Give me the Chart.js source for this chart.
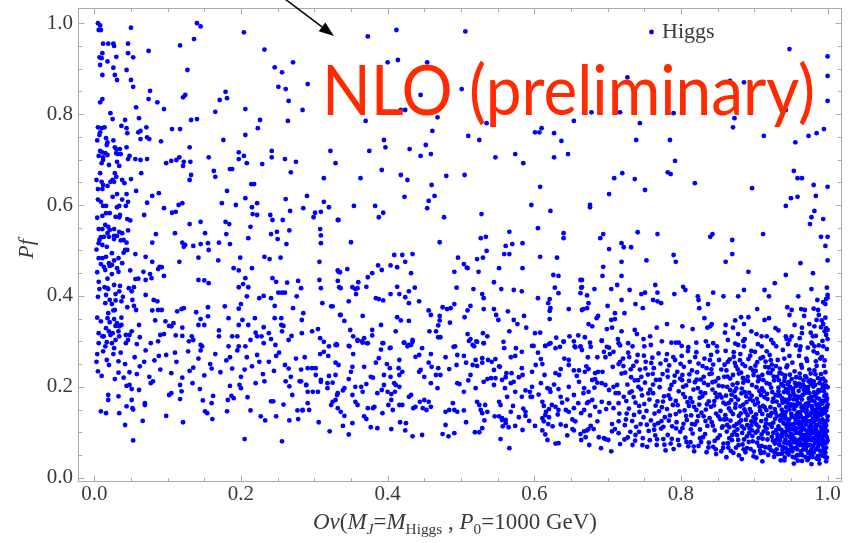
<!DOCTYPE html>
<html><head><meta charset="utf-8">
<script src="https://cdn.jsdelivr.net/npm/chart.js@4.4.1/dist/chart.umd.min.js"></script>
<style>html,body{margin:0;padding:0;background:#fff;}#wrap{width:851px;height:543px;position:relative;}</style>
</head><body><div id="wrap"><canvas id="c" width="851" height="543"></canvas></div>
<script>
const seriesName = 'Higgs';
const xTickValues = [0, 0.2, 0.4, 0.6, 0.8, 1.0];
const xTickLabels = ['0.0', '0.2', '0.4', '0.6', '0.8', '1.0'];
const yTickValues = [0, 0.2, 0.4, 0.6, 0.8, 1.0];
const yTickLabels = ['0.0', '0.2', '0.4', '0.6', '0.8', '1.0'];
const minorTicks = [0,0.05,0.1,0.15,0.2,0.25,0.3,0.35,0.4,0.45,0.5,0.55,0.6,0.65,0.7,0.75,0.8,0.85,0.9,0.95,1.0];
const annotationText = 'NLO (preliminary)';
const xTitleParts = [['Ov','i'],['(',''],['M','i'],['J','is'],['=',''],['M','i'],['Higgs','s'],[' , ',''],['P','i'],['0','s'],['=1000 GeV)','']];
const yTitle = 'Pf';

// [Ov, Pf] pairs, region by region
const topLeft = [
[0.005,1.0],[0.008,0.995],[0.006,0.985],[0.009,0.985],[0.05,0.99],[0.14,1.0],[0.145,0.993],[0.204,0.98],
[0.012,0.955],[0.019,0.955],[0.026,0.955],[0.027,0.95],[0.046,0.955],[0.117,0.951],[0.136,0.965],[0.074,0.939],[0.232,0.942],
[0.007,0.925],[0.01,0.923],[0.011,0.934],[0.03,0.926],[0.046,0.934],[0.053,0.925],[0.018,0.916],[0.008,0.908],[0.026,0.902],[0.044,0.897],[0.127,0.897],[0.246,0.903],[0.271,0.914],[0.256,0.892],
[0.011,0.886],[0.028,0.886],[0.031,0.875],[0.05,0.875],[0.053,0.86],[0.251,0.86],[0.261,0.855],[0.076,0.851],[0.179,0.849],[0.181,0.835],[0.171,0.831],[0.124,0.842],[0.121,0.837],[0.074,0.833],[0.086,0.826],[0.011,0.833],[0.008,0.826],[0.095,0.811],[0.057,0.815],[0.265,0.829],[0.284,0.809],[0.206,0.811],[0.165,0.805],
[0.022,0.802],[0.025,0.789],[0.061,0.791],[0.042,0.787],[0.037,0.774],[0.044,0.769],[0.045,0.758],[0.005,0.771],[0.01,0.769],[0.014,0.771],[0.008,0.76],[0.007,0.754],[0.132,0.787],[0.14,0.789],[0.226,0.787],[0.264,0.785],[0.223,0.769],[0.071,0.771],[0.063,0.763],[0.06,0.76],[0.106,0.767],[0.117,0.767],
[0.016,0.747],[0.018,0.738],[0.072,0.749],[0.075,0.745],[0.063,0.745],[0.091,0.74],[0.206,0.754],[0.176,0.743],[0.13,0.727],
[0.028,0.727],[0.03,0.723],[0.035,0.723],[0.03,0.714],[0.032,0.712],[0.044,0.727],
[0.008,0.719],[0.011,0.716],[0.015,0.714],[0.018,0.71],[0.012,0.705],[0.012,0.699],[0.01,0.692],
[0.048,0.708],[0.046,0.701],[0.056,0.701],[0.063,0.699],[0.072,0.701],[0.031,0.695],[0.116,0.705],[0.112,0.699],[0.131,0.695],[0.122,0.695],[0.121,0.686],[0.105,0.697],[0.098,0.692],[0.156,0.705],
[0.197,0.716],[0.204,0.708],[0.197,0.701],[0.208,0.692],[0.242,0.719],[0.242,0.705],[0.26,0.701],[0.275,0.695],[0.229,0.69],[0.188,0.679],[0.185,0.679],[0.163,0.675],[0.165,0.662],[0.132,0.666],[0.13,0.655],[0.268,0.672],
[0.008,0.67],[0.01,0.651],[0.012,0.644],[0.005,0.635],[0.011,0.635],[0.028,0.67],[0.025,0.655],[0.027,0.651],[0.022,0.651],[0.03,0.662],[0.038,0.655],[0.041,0.648],[0.064,0.67],[0.05,0.657],[0.057,0.631],
[0.214,0.646],[0.218,0.646],[0.181,0.631],[0.088,0.626],[0.079,0.62],[0.044,0.624],[0.031,0.624],[0.206,0.615],[0.261,0.613]
];
const topRight = [
[0.373,0.971],[0.412,0.985],[0.506,0.982],[0.948,0.943],[1.0,0.927],[0.4,0.914],[0.414,0.919],[0.454,0.914],[0.291,0.866],[0.479,0.866],[0.501,0.855],[0.445,0.842],[0.727,0.881],[0.867,0.873],[0.886,0.87],[1.0,0.884],
[0.418,0.809],[0.424,0.809],[0.37,0.785],[0.468,0.793],[0.535,0.78],[0.461,0.763],[0.51,0.752],[0.525,0.743],[0.395,0.743],[0.397,0.727],[0.452,0.732],[0.322,0.719],[0.375,0.719],[0.43,0.723],[0.445,0.708],[0.459,0.712],[0.329,0.692],[0.392,0.677],[0.418,0.666],[0.427,0.655],[0.313,0.659],[0.363,0.659],[0.48,0.664],[0.505,0.666],[0.547,0.705],[0.574,0.712],[0.585,0.692],[0.607,0.76],[0.61,0.769],[0.601,0.76],[0.627,0.758],[0.637,0.741],[0.646,0.712],[0.627,0.705],[0.46,0.644],[0.464,0.62],[0.423,0.618],[0.29,0.62],[0.608,0.64],
[0.678,0.804],[0.717,0.804],[0.79,0.802],[0.654,0.785],[0.744,0.78],[0.873,0.791],[0.871,0.771],[0.943,0.809],[1.0,0.829],[0.739,0.743],[0.785,0.743],[0.913,0.752],[0.956,0.738],[0.974,0.752],[0.985,0.758],[0.995,0.767],[0.792,0.697],[0.782,0.672],[0.786,0.668],[0.709,0.659],[0.72,0.67],[0.737,0.657],[0.751,0.633],[0.702,0.624],[0.819,0.648],[0.897,0.637],[0.954,0.675],[0.959,0.659],[0.965,0.659],[0.981,0.644],[1.0,0.64],[0.984,0.62],[0.95,0.615],[0.959,0.618]
];
const midLeft = [
[0.009,0.607],[0.012,0.598],[0.031,0.595],[0.034,0.598],[0.043,0.598],[0.046,0.607],[0.072,0.605],[0.095,0.593],[0.106,0.583],[0.111,0.585],[0.115,0.6],[0.12,0.604],[0.174,0.604],[0.193,0.6],[0.215,0.595],[0.222,0.604],[0.216,0.58],[0.222,0.578],[0.267,0.587],[0.285,0.593],[0.301,0.583],[0.309,0.585],[0.313,0.607],[0.32,0.595],[0.333,0.567],
[0.011,0.576],[0.016,0.582],[0.021,0.582],[0.029,0.574],[0.034,0.573],[0.045,0.569],[0.049,0.566],[0.068,0.578],[0.13,0.558],[0.145,0.563],[0.179,0.563],[0.184,0.558],[0.213,0.552],[0.24,0.578],[0.243,0.567],[0.257,0.567],[0.299,0.573],
[0.006,0.547],[0.011,0.547],[0.015,0.556],[0.021,0.545],[0.027,0.547],[0.034,0.541],[0.038,0.538],[0.046,0.544],[0.084,0.536],[0.11,0.538],[0.151,0.538],[0.18,0.536],[0.241,0.536],[0.249,0.541],[0.266,0.544],[0.308,0.547],[0.309,0.533],
[0.009,0.529],[0.013,0.53],[0.018,0.538],[0.006,0.516],[0.007,0.523],[0.011,0.512],[0.02,0.53],[0.027,0.525],[0.031,0.532],[0.04,0.523],[0.044,0.517],[0.079,0.517],[0.12,0.517],[0.122,0.508],[0.124,0.512],[0.135,0.51],[0.145,0.514],[0.155,0.516],[0.156,0.501],[0.17,0.517],[0.185,0.514],[0.21,0.527],[0.25,0.525],[0.262,0.514],[0.309,0.516],
[0.006,0.483],[0.011,0.483],[0.016,0.486],[0.024,0.494],[0.027,0.478],[0.033,0.483],[0.04,0.495],[0.042,0.501],[0.045,0.501],[0.056,0.492],[0.07,0.486],[0.079,0.475],[0.116,0.475],[0.142,0.484],[0.169,0.478],[0.199,0.484],[0.232,0.486],[0.239,0.481],[0.254,0.484],[0.307,0.475],
[0.009,0.47],[0.013,0.464],[0.015,0.457],[0.021,0.466],[0.024,0.468],[0.031,0.461],[0.033,0.453],[0.049,0.456],[0.067,0.453],[0.076,0.448],[0.078,0.439],[0.087,0.459],[0.089,0.464],[0.092,0.463],[0.095,0.444],[0.07,0.435],[0.056,0.437],[0.06,0.438],[0.142,0.435],[0.15,0.434],[0.156,0.428],[0.19,0.461],[0.197,0.456],[0.215,0.461],[0.206,0.439],[0.197,0.419],[0.203,0.426],[0.21,0.419],[0.243,0.439],[0.248,0.431],[0.263,0.429],[0.278,0.433],[0.307,0.435],[0.333,0.453],
[0.006,0.431],[0.007,0.415],[0.014,0.419],[0.018,0.417],[0.019,0.415],[0.027,0.424],[0.029,0.404],[0.034,0.41],[0.047,0.417],[0.051,0.41],[0.054,0.419],[0.07,0.402],[0.081,0.391],[0.086,0.388],
[0.015,0.384],[0.021,0.391],[0.024,0.382],[0.028,0.369],[0.029,0.39],[0.037,0.388],[0.045,0.375],[0.052,0.391],[0.054,0.378],[0.057,0.369],[0.079,0.368],[0.087,0.369],[0.092,0.369],[0.113,0.366],[0.119,0.371],[0.122,0.373],[0.139,0.364],[0.155,0.375],[0.178,0.377],[0.197,0.372],[0.2,0.382],[0.208,0.399],[0.225,0.395],[0.231,0.4],[0.241,0.395],[0.246,0.378],[0.251,0.407],[0.256,0.407],[0.26,0.407],[0.271,0.373],[0.276,0.399],[0.282,0.417],[0.285,0.362],[0.309,0.417],[0.311,0.384],[0.323,0.377],[0.334,0.419],[0.335,0.358],
[0.009,0.344],[0.018,0.351],[0.027,0.349],[0.029,0.334],[0.031,0.34],[0.034,0.333],[0.037,0.336],[0.033,0.322],[0.043,0.314],[0.048,0.314],[0.051,0.322],[0.046,0.303],[0.061,0.336],[0.062,0.309],[0.083,0.346],[0.097,0.344],[0.102,0.334],[0.105,0.333],[0.108,0.34],[0.12,0.33],[0.12,0.312],[0.111,0.313],[0.09,0.314],[0.095,0.316],[0.087,0.3],[0.077,0.296],[0.058,0.294],[0.043,0.296],[0.029,0.303],[0.022,0.314],[0.02,0.322],[0.016,0.329],[0.013,0.311],[0.011,0.311],[0.006,0.296],[0.015,0.289],[0.024,0.296],[0.027,0.285],
[0.129,0.3],[0.133,0.311],[0.135,0.303],[0.142,0.336],[0.145,0.349],[0.15,0.336],[0.155,0.355],[0.183,0.351],[0.17,0.324],[0.17,0.311],[0.188,0.311],[0.195,0.311],[0.197,0.336],[0.202,0.347],[0.21,0.336],[0.219,0.351],[0.22,0.319],[0.222,0.311],[0.231,0.331],[0.238,0.318],[0.241,0.305],[0.246,0.351],[0.255,0.351],[0.255,0.336],[0.258,0.334],[0.256,0.322],[0.269,0.312],[0.283,0.347],[0.283,0.318],[0.297,0.322],[0.305,0.327],[0.308,0.307],[0.32,0.289],[0.331,0.292],[0.183,0.289],[0.197,0.289],[0.206,0.289],[0.213,0.303],[0.228,0.311],[0.231,0.296],[0.247,0.292],[0.265,0.303],[0.145,0.292],[0.147,0.289]
];
const leftStrip = [
[0.004,0.742],[0.006,0.708],[0.003,0.655],[0.005,0.612],[0.004,0.572],[0.003,0.502],[0.004,0.452],[0.005,0.398],[0.004,0.352],[0.006,0.318],[0.004,0.272],[0.003,0.255],[0.017,0.732],[0.02,0.688],[0.018,0.642],[0.016,0.598],[0.019,0.552],[0.017,0.508],[0.02,0.472],[0.018,0.438],[0.016,0.402],[0.019,0.362],[0.021,0.342],[0.017,0.298],[0.036,0.712],[0.034,0.686],[0.038,0.612],[0.035,0.578],[0.036,0.522],[0.038,0.472],[0.035,0.422],[0.039,0.398],[0.037,0.352],[0.034,0.311],[0.026,0.742],[0.025,0.618],[0.027,0.532],[0.024,0.448],[0.026,0.368],[0.025,0.318]
];
const midCenter = [
[0.354,0.598],[0.383,0.598],[0.394,0.583],[0.388,0.573],[0.332,0.567],[0.456,0.609],[0.454,0.593],[0.477,0.573],[0.35,0.518],[0.471,0.518],[0.528,0.58],[0.596,0.6],[0.622,0.587],[0.605,0.549],[0.566,0.541],[0.64,0.538],[0.64,0.527],[0.527,0.527],[0.534,0.53],[0.561,0.51],[0.57,0.514],[0.584,0.516],[0.535,0.499],[0.559,0.492],[0.566,0.492],[0.608,0.486],[0.631,0.484],[0.522,0.481],[0.53,0.484],[0.496,0.484],[0.409,0.49],[0.42,0.49],[0.434,0.492],[0.424,0.475],[0.387,0.467],[0.392,0.457],[0.404,0.467],[0.413,0.463],[0.504,0.47],[0.508,0.462],[0.509,0.461],[0.491,0.453],[0.524,0.453],[0.552,0.461],[0.584,0.461],[0.626,0.446],[0.633,0.444],[0.332,0.456],[0.335,0.452],[0.345,0.459],[0.379,0.45],[0.373,0.441],[0.432,0.45],[0.332,0.433],[0.36,0.43],[0.371,0.42],[0.352,0.419],[0.356,0.415],[0.359,0.417],[0.357,0.404],[0.336,0.417],[0.413,0.42],[0.404,0.404],[0.416,0.404],[0.424,0.397],[0.429,0.41],[0.437,0.418],[0.384,0.395],[0.388,0.393],[0.394,0.39],[0.347,0.388],[0.429,0.384],[0.443,0.388],[0.494,0.418],[0.517,0.415],[0.545,0.43],[0.555,0.415],[0.572,0.413],[0.583,0.41],[0.529,0.404],[0.531,0.395],[0.605,0.395],[0.628,0.418],[0.633,0.406],[0.663,0.435],[0.664,0.418],[0.663,0.406],[0.621,0.393],[0.619,0.384],[0.622,0.373],[0.621,0.367],[0.621,0.349],[0.647,0.371],
[0.325,0.377],[0.336,0.358],[0.341,0.345],[0.366,0.356],[0.391,0.336],[0.413,0.353],[0.418,0.346],[0.429,0.345],[0.456,0.368],[0.459,0.358],[0.475,0.375],[0.481,0.371],[0.486,0.373],[0.491,0.382],[0.471,0.356],[0.471,0.346],[0.469,0.335],[0.485,0.341],[0.505,0.353],[0.509,0.368],[0.513,0.378],[0.531,0.371],[0.545,0.371],[0.548,0.358],[0.551,0.347],[0.564,0.366],[0.572,0.347],[0.577,0.338],[0.586,0.356],[0.589,0.33],[0.349,0.325],[0.379,0.325],[0.379,0.313],[0.411,0.322],[0.434,0.303],[0.457,0.322],[0.466,0.322],[0.469,0.309],[0.472,0.309],[0.509,0.316],[0.513,0.305],[0.521,0.3],[0.53,0.318],[0.536,0.311],[0.566,0.322],[0.601,0.318],[0.608,0.319],[0.63,0.308],[0.64,0.3],[0.648,0.311],[0.654,0.3],[0.66,0.313],
[0.33,0.294],[0.348,0.289],[0.353,0.311],[0.359,0.303],[0.365,0.3],[0.368,0.307],[0.373,0.296],[0.393,0.296],[0.404,0.286],[0.423,0.297],[0.427,0.289],[0.432,0.292],[0.447,0.285],[0.492,0.289],[0.518,0.289],[0.531,0.296],[0.559,0.285],[0.599,0.29],[0.615,0.29],[0.62,0.294],[0.655,0.289],[0.663,0.289]
];
const midRight = [
[0.676,0.6],[0.676,0.595],[0.943,0.598],[0.982,0.587],[0.978,0.573],[0.976,0.558],[0.994,0.569],[0.694,0.536],[0.69,0.527],[0.702,0.503],[0.741,0.54],[0.768,0.536],[0.719,0.516],[0.722,0.507],[0.732,0.507],[0.84,0.53],[0.843,0.536],[0.87,0.523],[0.87,0.492],[0.912,0.536],[0.991,0.53],[1.0,0.53],[0.997,0.51],[1.0,0.478],[0.79,0.49],[0.793,0.475],[0.753,0.478],[0.719,0.475],[0.861,0.475],[0.963,0.472],[0.694,0.464],[0.693,0.444],[0.719,0.444],[0.892,0.453],[0.943,0.446],[0.98,0.45],[0.928,0.428],[0.978,0.415],[0.665,0.435],[0.665,0.419],[0.682,0.415],[0.672,0.401],[0.674,0.384],[0.705,0.415],[0.713,0.424],[0.73,0.413],[0.765,0.424],[0.768,0.407],[0.746,0.404],[0.751,0.407],[0.803,0.42],[0.806,0.413],[0.791,0.404],[0.844,0.407],[0.858,0.399],[0.878,0.399],[0.886,0.413],[0.914,0.413],[0.92,0.399],[0.96,0.399],[1.0,0.396],[0.998,0.393],[0.986,0.391],
[0.719,0.391],[0.7,0.378],[0.672,0.373],[0.667,0.371],[0.687,0.356],[0.685,0.351],[0.71,0.362],[0.705,0.347],[0.71,0.349],[0.723,0.362],[0.762,0.391],[0.768,0.388],[0.773,0.384],[0.738,0.382],[0.748,0.373],[0.823,0.399],[0.824,0.391],[0.825,0.373],[0.837,0.382],[0.832,0.351],[0.836,0.33],[0.842,0.338],[0.84,0.333],[0.904,0.371],[0.914,0.347],[0.92,0.351],[0.945,0.375],[0.951,0.369],[0.948,0.358],[0.964,0.371],[0.969,0.369],[0.987,0.369],[0.997,0.382],[1.0,0.402],
[0.665,0.369],[0.674,0.338],[0.679,0.333],[0.699,0.327],[0.706,0.33],[0.719,0.322],[0.714,0.305],[0.669,0.309],[0.676,0.297],[0.692,0.302],[0.737,0.325],[0.74,0.316],[0.749,0.305],[0.75,0.289],[0.758,0.311],[0.759,0.292],[0.767,0.33],[0.774,0.3],[0.781,0.338],[0.728,0.296],[0.734,0.289],[0.717,0.291],[0.702,0.286],[0.787,0.297],[0.793,0.297],[0.797,0.297],[0.801,0.29],[0.81,0.287],[0.802,0.333],[0.816,0.327],[0.821,0.297],[0.834,0.3],[0.837,0.29],[0.844,0.296],[0.849,0.289],[0.861,0.336],[0.86,0.319],[0.864,0.303],[0.871,0.33],[0.874,0.346],[0.882,0.353],[0.886,0.338],[0.892,0.353],[0.878,0.316],[0.887,0.305],[0.896,0.322],[0.903,0.316],[0.91,0.311],[0.917,0.311],[0.923,0.303],[0.878,0.292],[0.874,0.295],[0.886,0.289],[0.929,0.329],[0.933,0.324],[0.943,0.311],[0.944,0.305],[0.948,0.303],[0.951,0.311],[0.955,0.336],[0.962,0.307],[0.965,0.33],[0.977,0.319],[0.98,0.311],[0.982,0.333],[0.985,0.347],[0.988,0.358],[0.992,0.346],[0.994,0.338],[0.996,0.322],[0.998,0.329],[0.998,0.314],[1.0,0.305],[1.0,0.325],[0.91,0.289],[0.93,0.289],[0.946,0.294],[0.963,0.289],[0.973,0.286],[0.982,0.289],[0.988,0.291],[0.994,0.289],[0.978,0.297],
[0.962,0.281],[0.971,0.262],[0.979,0.295],[0.986,0.274],[0.993,0.301],[0.999,0.283],[0.965,0.318],[0.975,0.338],[0.984,0.312],[0.991,0.331],[0.997,0.352],[0.968,0.356],[0.981,0.372],[0.994,0.386],[0.999,0.418],[0.957,0.291],[0.948,0.268],[0.939,0.281],[0.926,0.296],[0.917,0.278],[0.905,0.294],[0.896,0.279],[0.885,0.301],[0.872,0.276],[0.99,0.262]
];
const lowLeft = [
[0.009,0.146],[0.016,0.142],[0.019,0.182],[0.019,0.171],[0.033,0.179],[0.034,0.142],[0.044,0.157],[0.042,0.116],[0.044,0.202],[0.048,0.204],[0.051,0.195],[0.051,0.171],[0.052,0.153],[0.053,0.15],[0.053,0.082],[0.061,0.193],[0.066,0.125],[0.069,0.164],[0.069,0.16],[0.077,0.208],[0.08,0.212],[0.098,0.136],[0.102,0.182],[0.105,0.186],[0.117,0.204],[0.119,0.19],[0.117,0.173],[0.121,0.122],[0.134,0.208],[0.144,0.195],[0.148,0.17],[0.151,0.146],[0.154,0.142],[0.16,0.164],[0.162,0.18],[0.161,0.129],[0.182,0.171],[0.181,0.146],[0.185,0.202],[0.187,0.18],[0.19,0.175],[0.198,0.204],[0.2,0.197],[0.205,0.085],[0.209,0.177],[0.213,0.148],[0.22,0.208],[0.227,0.135],[0.232,0.212],[0.233,0.126],[0.241,0.168],[0.244,0.168],[0.248,0.135],[0.256,0.08],[0.258,0.161],[0.261,0.212],[0.266,0.201],[0.266,0.126],[0.27,0.182],[0.277,0.148],[0.284,0.148],[0.278,0.129],[0.28,0.212],[0.282,0.212],[0.289,0.204],
[0.005,0.234],[0.01,0.224],[0.033,0.231],[0.028,0.217],[0.012,0.278],[0.026,0.272],[0.017,0.259],[0.033,0.256],[0.042,0.25],[0.048,0.232],[0.055,0.265],[0.062,0.245],[0.07,0.28],[0.075,0.222],[0.082,0.258],[0.09,0.238],[0.098,0.27],[0.105,0.23],[0.112,0.255],[0.12,0.22],[0.128,0.278],[0.135,0.242],[0.142,0.262],[0.15,0.225],[0.158,0.25],[0.165,0.272],[0.172,0.232],[0.18,0.258],[0.188,0.24],[0.195,0.28],[0.2,0.222],[0.208,0.265],[0.215,0.245],[0.222,0.27],[0.23,0.228],[0.238,0.255],[0.245,0.235],[0.252,0.275],[0.26,0.248],[0.268,0.222],[0.275,0.262],[0.282,0.238],[0.04,0.22],[0.058,0.228],[0.068,0.255],[0.088,0.268],[0.11,0.275],[0.13,0.235],[0.145,0.28],[0.16,0.24],[0.185,0.265],[0.205,0.238],[0.225,0.255],[0.248,0.268],[0.265,0.24],[0.036,0.275],[0.02,0.248]
];
const lowCenter = [
[0.313,0.299],[0.329,0.292],[0.347,0.29],[0.359,0.301],[0.366,0.297],[0.372,0.296],[0.394,0.296],[0.422,0.297],[0.429,0.292],[0.434,0.299],[0.49,0.288],[0.511,0.301],[0.516,0.292],[0.522,0.299],[0.531,0.296],[0.558,0.299],[0.583,0.277],[0.597,0.29],[0.615,0.29],[0.622,0.296],[0.64,0.299],[0.656,0.287],[0.663,0.288],[0.673,0.265],[0.677,0.288],[0.692,0.301],[0.699,0.288],[0.708,0.277],[0.715,0.296],
[0.308,0.272],[0.313,0.277],[0.319,0.268],[0.287,0.265],[0.353,0.272],[0.388,0.263],[0.391,0.282],[0.403,0.285],[0.416,0.259],[0.443,0.27],[0.438,0.266],[0.459,0.272],[0.479,0.265],[0.495,0.27],[0.504,0.268],[0.52,0.259],[0.529,0.263],[0.537,0.259],[0.547,0.261],[0.568,0.265],[0.574,0.268],[0.609,0.261],[0.629,0.285],[0.647,0.259],[0.686,0.265],[0.697,0.265],[0.715,0.25],
[0.291,0.241],[0.297,0.241],[0.302,0.241],[0.329,0.253],[0.333,0.248],[0.352,0.244],[0.35,0.233],[0.368,0.244],[0.384,0.253],[0.399,0.25],[0.403,0.241],[0.415,0.241],[0.42,0.233],[0.416,0.226],[0.395,0.226],[0.404,0.222],[0.443,0.233],[0.445,0.237],[0.456,0.253],[0.46,0.244],[0.469,0.241],[0.484,0.239],[0.494,0.248],[0.507,0.253],[0.516,0.248],[0.522,0.246],[0.529,0.253],[0.542,0.255],[0.545,0.237],[0.553,0.244],[0.562,0.23],[0.569,0.23],[0.583,0.241],[0.584,0.226],[0.597,0.233],[0.611,0.25],[0.629,0.23],[0.634,0.226],[0.636,0.239],[0.647,0.248],[0.654,0.236],[0.661,0.236],[0.669,0.233],[0.674,0.239],[0.683,0.23],[0.687,0.233],[0.707,0.244],[0.717,0.255],[0.302,0.226],[0.309,0.215],[0.32,0.224],[0.329,0.226],[0.347,0.217],[0.377,0.222],[0.38,0.22],[0.466,0.226],[0.472,0.226],[0.513,0.226],[0.536,0.217],[0.547,0.219],[0.572,0.211],[0.561,0.221],
[0.289,0.204],[0.291,0.189],[0.298,0.189],[0.305,0.189],[0.318,0.208],[0.318,0.197],[0.309,0.211],[0.325,0.209],[0.331,0.182],[0.332,0.186],[0.339,0.192],[0.341,0.197],[0.356,0.2],[0.352,0.182],[0.364,0.2],[0.366,0.189],[0.371,0.206],[0.386,0.186],[0.392,0.193],[0.395,0.204],[0.4,0.189],[0.405,0.184],[0.409,0.208],[0.411,0.204],[0.416,0.2],[0.41,0.189],[0.429,0.178],[0.432,0.182],[0.45,0.222],[0.459,0.208],[0.468,0.197],[0.495,0.208],[0.498,0.206],[0.51,0.214],[0.504,0.189],[0.52,0.197],[0.531,0.211],[0.541,0.219],[0.545,0.204],[0.556,0.215],[0.568,0.208],[0.56,0.197],[0.574,0.189],[0.583,0.178],[0.594,0.189],[0.597,0.2],[0.597,0.178],[0.609,0.208],[0.618,0.197],[0.621,0.195],[0.622,0.189],[0.633,0.195],[0.636,0.178],[0.647,0.2],[0.654,0.182],[0.661,0.211],[0.668,0.197],[0.674,0.189],[0.679,0.215],[0.683,0.217],[0.686,0.209],[0.692,0.208],[0.697,0.204],[0.702,0.193],[0.708,0.2],[0.713,0.204],[0.715,0.186],
[0.284,0.149],[0.291,0.164],[0.293,0.149],[0.323,0.16],[0.325,0.167],[0.329,0.171],[0.332,0.153],[0.336,0.145],[0.341,0.136],[0.356,0.167],[0.359,0.16],[0.368,0.135],[0.373,0.153],[0.38,0.153],[0.382,0.156],[0.393,0.142],[0.401,0.16],[0.405,0.171],[0.407,0.149],[0.416,0.16],[0.42,0.16],[0.435,0.153],[0.438,0.156],[0.444,0.167],[0.448,0.153],[0.45,0.171],[0.456,0.167],[0.453,0.149],[0.459,0.156],[0.479,0.145],[0.484,0.149],[0.491,0.149],[0.489,0.164],[0.495,0.145],[0.504,0.148],[0.522,0.167],[0.525,0.16],[0.527,0.149],[0.529,0.142],[0.533,0.16],[0.536,0.145],[0.552,0.167],[0.554,0.16],[0.556,0.131],[0.561,0.127],[0.568,0.145],[0.588,0.145],[0.595,0.178],[0.611,0.167],[0.613,0.158],[0.616,0.145],[0.62,0.151],[0.624,0.16],[0.629,0.156],[0.633,0.149],[0.638,0.165],[0.643,0.149],[0.647,0.145],[0.654,0.153],[0.66,0.164],[0.664,0.142],[0.668,0.149],[0.672,0.164],[0.674,0.167],[0.679,0.171],[0.683,0.156],[0.689,0.145],[0.692,0.167],[0.702,0.164],[0.708,0.153],[0.715,0.164],
[0.306,0.122],[0.339,0.114],[0.352,0.12],[0.371,0.129],[0.377,0.111],[0.386,0.109],[0.405,0.107],[0.417,0.122],[0.425,0.12],[0.424,0.104],[0.434,0.091],[0.447,0.094],[0.475,0.096],[0.483,0.091],[0.491,0.098],[0.479,0.116],[0.507,0.122],[0.519,0.1],[0.525,0.1],[0.529,0.109],[0.532,0.126],[0.554,0.085],[0.557,0.113],[0.561,0.12],[0.565,0.111],[0.566,0.065],[0.574,0.114],[0.579,0.133],[0.584,0.105],[0.588,0.136],[0.601,0.114],[0.611,0.104],[0.613,0.124],[0.618,0.083],[0.62,0.133],[0.625,0.113],[0.629,0.075],[0.633,0.076],[0.636,0.117],[0.643,0.114],[0.652,0.107],[0.654,0.104],[0.656,0.124],[0.664,0.083],[0.668,0.102],[0.67,0.089],[0.672,0.104],[0.674,0.107],[0.677,0.114],[0.681,0.107],[0.686,0.124],[0.691,0.065],[0.695,0.087],[0.697,0.085],[0.701,0.083],[0.706,0.102],[0.71,0.107],[0.715,0.124],[0.717,0.074],[0.321,0.102],[0.347,0.095],[0.552,0.135],[0.546,0.135],[0.556,0.127],[0.611,0.131],[0.615,0.138],
[0.552,0.245],[0.563,0.178],[0.571,0.158],[0.579,0.221],[0.588,0.192],[0.593,0.125],[0.602,0.248],[0.606,0.183],[0.614,0.226],[0.619,0.118],[0.627,0.205],[0.632,0.139],[0.641,0.262],[0.645,0.172],[0.652,0.128],[0.658,0.224],[0.663,0.096],[0.667,0.186],[0.671,0.245],[0.676,0.137],[0.682,0.198],[0.688,0.089],[0.693,0.233],[0.698,0.151],[0.703,0.272],[0.706,0.118],[0.711,0.186],[0.716,0.141],[0.719,0.229],[0.575,0.285],[0.605,0.275],[0.635,0.288],[0.665,0.281],[0.695,0.277],[0.585,0.152],[0.615,0.095],[0.645,0.093],[0.675,0.072],[0.705,0.058],[0.715,0.098]
];
const lowRight = [
[0.721,0.262],[0.724,0.231],[0.727,0.205],[0.722,0.178],[0.729,0.152],[0.725,0.128],[0.731,0.101],[0.723,0.084],[0.735,0.246],[0.737,0.214],[0.733,0.19],[0.738,0.165],[0.736,0.138],[0.739,0.112],[0.734,0.072],[0.728,0.275],[0.732,0.221],[0.726,0.141],[0.738,0.094],[0.73,0.187],
[0.741,0.27],[0.744,0.238],[0.742,0.2],[0.747,0.181],[0.743,0.158],[0.749,0.133],[0.745,0.118],[0.748,0.087],[0.752,0.255],[0.755,0.227],[0.751,0.209],[0.757,0.172],[0.753,0.147],[0.759,0.126],[0.756,0.103],[0.754,0.068],[0.746,0.222],[0.758,0.194],[0.75,0.162],[0.743,0.101],
[0.761,0.264],[0.763,0.241],[0.766,0.215],[0.762,0.186],[0.768,0.168],[0.764,0.141],[0.769,0.12],[0.765,0.093],[0.767,0.072],[0.772,0.251],[0.775,0.228],[0.771,0.199],[0.777,0.179],[0.774,0.155],[0.778,0.133],[0.773,0.108],[0.776,0.085],[0.779,0.06],[0.762,0.205],[0.77,0.146],[0.776,0.112],[0.764,0.116],
[0.781,0.272],[0.784,0.247],[0.782,0.222],[0.787,0.204],[0.783,0.181],[0.789,0.16],[0.785,0.137],[0.788,0.113],[0.782,0.094],[0.786,0.075],[0.792,0.259],[0.795,0.233],[0.791,0.211],[0.797,0.19],[0.793,0.169],[0.798,0.146],[0.794,0.122],[0.799,0.101],[0.796,0.083],[0.79,0.063],[0.785,0.195],[0.793,0.14],[0.799,0.218],[0.781,0.151],
[0.801,0.268],[0.804,0.244],[0.802,0.226],[0.807,0.203],[0.803,0.184],[0.809,0.166],[0.805,0.148],[0.808,0.127],[0.802,0.109],[0.806,0.088],[0.81,0.069],[0.812,0.255],[0.815,0.236],[0.811,0.213],[0.817,0.194],[0.813,0.175],[0.818,0.156],[0.814,0.137],[0.819,0.117],[0.816,0.097],[0.813,0.078],[0.818,0.058],[0.807,0.136],[0.815,0.118],[0.803,0.2],[0.811,0.158],[0.819,0.21],
[0.821,0.276],[0.824,0.251],[0.822,0.232],[0.827,0.216],[0.823,0.197],[0.829,0.179],[0.825,0.161],[0.828,0.143],[0.822,0.124],[0.826,0.106],[0.83,0.089],[0.824,0.07],[0.832,0.262],[0.835,0.241],[0.831,0.222],[0.837,0.204],[0.833,0.186],[0.838,0.168],[0.834,0.15],[0.839,0.131],[0.836,0.114],[0.833,0.096],[0.838,0.077],[0.835,0.056],[0.827,0.188],[0.831,0.135],[0.826,0.087],[0.839,0.228],[0.821,0.149],
[0.841,0.27],[0.844,0.249],[0.842,0.229],[0.847,0.212],[0.843,0.194],[0.849,0.177],[0.845,0.159],[0.848,0.141],[0.842,0.122],[0.846,0.104],[0.85,0.087],[0.844,0.068],[0.848,0.052],[0.852,0.259],[0.855,0.238],[0.851,0.219],[0.857,0.201],[0.853,0.183],[0.858,0.165],[0.854,0.147],[0.859,0.128],[0.856,0.11],[0.853,0.093],[0.858,0.075],[0.855,0.058],[0.847,0.186],[0.851,0.135],[0.846,0.081],[0.859,0.222],[0.841,0.156],[0.857,0.113],[0.843,0.21],
[0.861,0.279],[0.864,0.255],[0.862,0.236],[0.867,0.218],[0.863,0.2],[0.869,0.183],[0.865,0.164],[0.868,0.146],[0.862,0.129],[0.866,0.111],[0.87,0.094],[0.864,0.076],[0.868,0.059],[0.862,0.045],[0.872,0.266],[0.875,0.245],[0.871,0.226],[0.877,0.208],[0.873,0.19],[0.878,0.172],[0.874,0.154],[0.879,0.136],[0.876,0.118],[0.873,0.101],[0.878,0.083],[0.875,0.066],[0.879,0.049],[0.867,0.193],[0.871,0.14],[0.866,0.087],[0.879,0.229],[0.861,0.162],[0.877,0.106],[0.863,0.116],[0.874,0.178],
[0.881,0.272],[0.884,0.25],[0.882,0.231],[0.887,0.214],[0.883,0.196],[0.889,0.179],[0.885,0.161],[0.888,0.144],[0.882,0.126],[0.886,0.108],[0.89,0.091],[0.884,0.073],[0.888,0.056],[0.883,0.041],[0.892,0.261],[0.895,0.241],[0.891,0.222],[0.897,0.204],[0.893,0.187],[0.898,0.169],[0.894,0.151],[0.899,0.133],[0.896,0.115],[0.893,0.098],[0.898,0.08],[0.895,0.063],[0.899,0.047],[0.887,0.188],[0.891,0.137],[0.886,0.084],[0.899,0.226],[0.881,0.157],[0.897,0.104],[0.883,0.113],[0.894,0.173],[0.89,0.065],[0.885,0.209],[0.896,0.124],
[0.901,0.277],[0.904,0.254],[0.902,0.235],[0.907,0.217],[0.903,0.199],[0.909,0.182],[0.905,0.165],[0.908,0.147],[0.902,0.13],[0.906,0.112],[0.91,0.095],[0.904,0.077],[0.908,0.06],[0.903,0.044],[0.912,0.265],[0.915,0.244],[0.911,0.226],[0.917,0.208],[0.913,0.19],[0.918,0.173],[0.914,0.155],[0.919,0.137],[0.916,0.119],[0.913,0.102],[0.918,0.084],[0.915,0.067],[0.919,0.05],[0.911,0.036],[0.907,0.191],[0.911,0.14],[0.906,0.087],[0.919,0.231],[0.901,0.161],[0.917,0.108],[0.903,0.117],[0.914,0.177],[0.91,0.07],[0.905,0.212],[0.916,0.128],[0.909,0.054],[0.912,0.158],[0.902,0.099],
[0.921,0.27],[0.924,0.249],[0.922,0.23],[0.927,0.214],[0.923,0.198],[0.929,0.182],[0.925,0.167],[0.928,0.151],[0.922,0.136],[0.926,0.121],[0.93,0.105],[0.924,0.09],[0.928,0.075],[0.923,0.06],[0.927,0.046],[0.932,0.259],[0.935,0.24],[0.931,0.222],[0.937,0.206],[0.933,0.19],[0.938,0.175],[0.934,0.159],[0.939,0.143],[0.936,0.128],[0.933,0.113],[0.938,0.097],[0.935,0.082],[0.939,0.067],[0.932,0.052],[0.936,0.038],[0.921,0.206],[0.926,0.174],[0.929,0.143],[0.924,0.112],[0.93,0.083],[0.921,0.068],[0.937,0.229],[0.933,0.198],[0.939,0.165],[0.931,0.136],[0.937,0.105],[0.934,0.074],[0.928,0.059],[0.922,0.155],[0.94,0.12],[0.925,0.238],[0.932,0.09],[0.938,0.053],[0.926,0.099],[0.935,0.181],
[0.941,0.262],[0.944,0.243],[0.942,0.225],[0.947,0.21],[0.943,0.195],[0.949,0.18],[0.945,0.165],[0.948,0.15],[0.942,0.136],[0.946,0.122],[0.95,0.107],[0.944,0.093],[0.948,0.079],[0.943,0.065],[0.947,0.051],[0.941,0.038],[0.952,0.253],[0.955,0.234],[0.951,0.217],[0.957,0.202],[0.953,0.187],[0.958,0.172],[0.954,0.158],[0.959,0.143],[0.956,0.129],[0.953,0.115],[0.958,0.1],[0.955,0.086],[0.959,0.072],[0.952,0.058],[0.956,0.044],[0.954,0.031],[0.941,0.213],[0.946,0.187],[0.949,0.158],[0.944,0.129],[0.95,0.097],[0.941,0.077],[0.957,0.221],[0.953,0.196],[0.959,0.164],[0.951,0.134],[0.957,0.109],[0.954,0.078],[0.948,0.061],[0.942,0.172],[0.96,0.124],[0.945,0.247],[0.952,0.092],[0.958,0.049],[0.946,0.104],[0.955,0.181],[0.943,0.145],[0.951,0.066],[0.947,0.115],[0.958,0.135],[0.944,0.056],[0.953,0.161],[0.949,0.2],[0.956,0.065],[0.942,0.101],
[0.961,0.268],[0.964,0.248],[0.962,0.229],[0.967,0.214],[0.963,0.2],[0.969,0.186],[0.965,0.172],[0.968,0.158],[0.962,0.144],[0.966,0.131],[0.97,0.117],[0.964,0.104],[0.968,0.09],[0.963,0.077],[0.967,0.063],[0.961,0.05],[0.965,0.037],[0.972,0.257],[0.975,0.238],[0.971,0.221],[0.977,0.206],[0.973,0.192],[0.978,0.178],[0.974,0.165],[0.979,0.151],[0.976,0.138],[0.973,0.124],[0.978,0.111],[0.975,0.097],[0.979,0.084],[0.972,0.07],[0.976,0.057],[0.974,0.043],[0.978,0.03],[0.961,0.207],[0.966,0.182],[0.969,0.151],[0.964,0.122],[0.97,0.094],[0.961,0.083],[0.977,0.229],[0.973,0.199],[0.979,0.17],[0.971,0.143],[0.977,0.118],[0.974,0.088],[0.968,0.068],[0.962,0.163],[0.98,0.13],[0.965,0.242],[0.972,0.103],[0.978,0.062],[0.966,0.111],[0.975,0.186],[0.963,0.137],[0.971,0.076],[0.967,0.124],[0.978,0.142],[0.964,0.058],[0.973,0.158],[0.969,0.2],[0.976,0.072],[0.962,0.097],[0.97,0.045],[0.975,0.112],[0.967,0.086],[0.979,0.098],[0.963,0.177],[0.972,0.135],[0.966,0.148],[0.977,0.05],[0.961,0.118],[0.974,0.212],
[0.981,0.278],[0.984,0.256],[0.982,0.236],[0.987,0.219],[0.983,0.204],[0.989,0.19],[0.985,0.176],[0.988,0.162],[0.982,0.149],[0.986,0.135],[0.99,0.122],[0.984,0.108],[0.988,0.095],[0.983,0.082],[0.987,0.068],[0.981,0.055],[0.985,0.042],[0.989,0.031],[0.992,0.266],[0.995,0.246],[0.991,0.228],[0.997,0.212],[0.993,0.197],[0.998,0.183],[0.994,0.169],[0.999,0.155],[0.996,0.142],[0.993,0.128],[0.998,0.115],[0.995,0.101],[0.999,0.088],[0.992,0.074],[0.996,0.061],[0.994,0.048],[0.998,0.036],[0.981,0.212],[0.986,0.187],[0.989,0.155],[0.984,0.127],[0.99,0.1],[0.981,0.087],[0.997,0.232],[0.993,0.205],[0.999,0.175],[0.991,0.147],[0.997,0.122],[0.994,0.092],[0.988,0.073],[0.982,0.168],[1.0,0.135],[0.985,0.246],[0.992,0.108],[0.998,0.066],[0.986,0.116],[0.995,0.19],[0.983,0.141],[0.991,0.081],[0.987,0.129],[0.998,0.148],[0.984,0.062],[0.993,0.163],[0.989,0.208],[0.996,0.076],[0.982,0.101],[0.99,0.049],[0.995,0.118],[0.987,0.09],[0.999,0.103],[0.983,0.18],[0.992,0.139],[0.986,0.152],[0.997,0.055],[0.981,0.123],[0.994,0.218],[1.0,0.082],[1.0,0.161],[1.0,0.199],[0.999,0.044],[0.988,0.04],[0.996,0.258]
];
const coreCluster = [
[0.9335,0.2145],[0.9405,0.1885],[0.9475,0.1725],[0.9545,0.1505],[0.9615,0.1335],[0.9685,0.1065],[0.9755,0.0925],[0.9825,0.0765],[0.9895,0.0595],[0.9965,0.0455],
[0.9305,0.1675],[0.9375,0.1495],[0.9445,0.1105],[0.9515,0.0855],[0.9585,0.0625],[0.9655,0.0495],[0.9725,0.0385],[0.9795,0.0455],[0.9865,0.0475],[0.9935,0.0575],
[0.9355,0.1255],[0.9425,0.0835],[0.9495,0.0715],[0.9565,0.0985],[0.9635,0.0865],[0.9705,0.0615],[0.9775,0.0825],[0.9845,0.0935],[0.9915,0.0885],[0.9985,0.0775],
[0.9315,0.0955],[0.9385,0.0615],[0.9455,0.0545],[0.9525,0.0455],[0.9595,0.0375],[0.9665,0.0715],[0.9735,0.0545],[0.9805,0.0695],[0.9875,0.0815],[0.9945,0.0665],
[0.9345,0.0715],[0.9415,0.0445],[0.9485,0.0895],[0.9555,0.1195],[0.9625,0.1095],[0.9695,0.1305],[0.9765,0.1245],[0.9835,0.1155],[0.9905,0.1125],[0.9975,0.0935],
[0.9365,0.1375],[0.9435,0.1555],[0.9505,0.1405],[0.9575,0.1585],[0.9645,0.1545],[0.9715,0.1485],[0.9785,0.1575],[0.9855,0.1435],[0.9925,0.1505],[0.9995,0.1265],
[0.9325,0.1805],[0.9395,0.2025],[0.9465,0.1945],[0.9535,0.1725],[0.9605,0.1905],[0.9675,0.1935],[0.9745,0.1745],[0.9815,0.1875],[0.9885,0.1735],[0.9955,0.1795],
[0.9345,0.2305],[0.9415,0.2205],[0.9485,0.2265],[0.9555,0.2085],[0.9625,0.2195],[0.9695,0.2235],[0.9765,0.2145],[0.9835,0.2275],[0.9905,0.2165],[0.9975,0.2025],
[0.9335,0.1075],[0.9405,0.1305],[0.9475,0.1275],[0.9545,0.1055],[0.9615,0.0715],[0.9685,0.0815],[0.9755,0.1045],[0.9825,0.1345],[0.9895,0.1385],[0.9965,0.1105],
[0.9305,0.0625],[0.9375,0.0905],[0.9445,0.0755],[0.9515,0.1175],[0.9585,0.0805],[0.9655,0.0945],[0.9725,0.0825],[0.9795,0.1025],[0.9865,0.1015],[0.9935,0.0825],
[0.9355,0.0525],[0.9425,0.1175],[0.9495,0.1615],[0.9565,0.1365],[0.9635,0.1185],[0.9705,0.1625],[0.9775,0.1425],[0.9845,0.1605],[0.9915,0.1685],[0.9985,0.1695],
[0.9385,0.1695],[0.9455,0.2055],[0.9525,0.1905],[0.9595,0.1785],[0.9665,0.2045],[0.9735,0.1885],[0.9805,0.2005],[0.9875,0.1925],[0.9945,0.1965],[0.9965,0.1535],
[0.8605,0.1375],[0.8675,0.1255],[0.8745,0.1625],[0.8815,0.1415],[0.8885,0.1275],[0.8955,0.1445],[0.9025,0.1395],[0.9095,0.1245],[0.9165,0.1485],[0.9235,0.1425],
[0.8625,0.1015],[0.8695,0.0825],[0.8765,0.0935],[0.8835,0.0985],[0.8905,0.1155],[0.8975,0.0915],[0.9045,0.1025],[0.9115,0.0855],[0.9185,0.0975],[0.9255,0.0815],
[0.8645,0.0665],[0.8715,0.0545],[0.8785,0.0715],[0.8855,0.0625],[0.8925,0.0785],[0.8995,0.0575],[0.9065,0.0695],[0.9135,0.0555],[0.9205,0.0645],[0.9275,0.0555],
[0.8615,0.1805],[0.8685,0.1705],[0.8755,0.1965],[0.8825,0.1855],[0.8895,0.1665],[0.8965,0.1805],[0.9035,0.1735],[0.9105,0.1965],[0.9175,0.1845],[0.9245,0.1885],
[0.8635,0.2225],[0.8705,0.2045],[0.8775,0.2385],[0.8845,0.2195],[0.8915,0.2125],[0.8985,0.2355],[0.9055,0.2225],[0.9125,0.2145],[0.9195,0.2425],[0.9265,0.2225],
[0.8655,0.1525],[0.8725,0.1135],[0.8795,0.1215],[0.8865,0.1505],[0.8935,0.1085],[0.9005,0.1225],[0.9075,0.1555],[0.9145,0.1125],[0.9215,0.1175],[0.9285,0.1295],
[0.8665,0.2605],[0.8735,0.2525],[0.8805,0.2585],[0.8875,0.2455],[0.8945,0.2685],[0.9015,0.2465],[0.9085,0.2625],[0.9155,0.2555],[0.9225,0.2585],[0.9295,0.2455],
[0.7215,0.2455],[0.7315,0.2385],[0.7415,0.2145],[0.7515,0.2405],[0.7615,0.2285],[0.7715,0.2155],[0.7815,0.2355],[0.7915,0.2245],[0.8015,0.2145],[0.8115,0.2275],[0.8215,0.2155],[0.8315,0.2085],[0.8415,0.2385],[0.8515,0.2025],
[0.7255,0.1685],[0.7355,0.1775],[0.7455,0.1945],[0.7555,0.1855],[0.7655,0.1585],[0.7755,0.1675],[0.7855,0.1735],[0.7955,0.1595],[0.8055,0.1775],[0.8155,0.1665],[0.8255,0.1755],[0.8355,0.1615],[0.8455,0.1685],[0.8555,0.1765],
[0.7235,0.1155],[0.7335,0.1245],[0.7435,0.1445],[0.7535,0.1165],[0.7635,0.1055],[0.7735,0.1245],[0.7835,0.1255],[0.7935,0.1085],[0.8035,0.1185],[0.8135,0.1065],[0.8235,0.1355],[0.8335,0.1245],[0.8435,0.1145],[0.8535,0.1285],
[0.7275,0.0885],[0.7375,0.0815],[0.7475,0.0715],[0.7575,0.0825],[0.7675,0.0845],[0.7775,0.0725],[0.7875,0.0855],[0.7975,0.0715],[0.8075,0.0785],[0.8175,0.0685],[0.8275,0.0785],[0.8375,0.0665],[0.8475,0.0625],[0.8575,0.0655],
[0.7295,0.2655],[0.7395,0.2555],[0.7495,0.2685],[0.7595,0.2525],[0.7695,0.2735],[0.7795,0.2585],[0.7895,0.2655],[0.7995,0.2505],[0.8095,0.2785],[0.8195,0.2655],[0.8295,0.2455],[0.8395,0.2585],[0.8495,0.2775],[0.8595,0.2485]
];

const allPairs = [].concat(topLeft, topRight, midLeft, leftStrip, midCenter, midRight, lowLeft, lowCenter, lowRight, coreCluster);
const higgsPoints = allPairs.map(p => ({x: p[0], y: p[1]}));

const SERIF = '"Liberation Serif", "DejaVu Serif", serif';
const POINT_COLOR = '#0000ff';
const LABEL_COLOR = '#3a3a3a';

const frameTicks = {
  id: 'frameTicks',
  afterDatasetsDraw(chart) {
    const {ctx, chartArea: a, scales: {x, y}} = chart;
    ctx.save();
    ctx.strokeStyle = '#ababab';
    ctx.lineWidth = 1;
    const L = Math.round(a.left) + 0.5, R = Math.round(a.right) - 0.5;
    const T = Math.round(a.top) + 0.5, B = Math.round(a.bottom) - 0.5;
    ctx.strokeRect(L, T, R - L, B - T);
    ctx.beginPath();
    minorTicks.forEach((v, i) => {
      const len = (i % 4 === 0) ? 6 : 3.5;
      const px = Math.round(x.getPixelForValue(v)) + 0.5;
      ctx.moveTo(px, B); ctx.lineTo(px, B - len);
      ctx.moveTo(px, T); ctx.lineTo(px, T + len);
      const py = Math.round(y.getPixelForValue(v)) + 0.5;
      ctx.moveTo(L, py); ctx.lineTo(L + len, py);
      ctx.moveTo(R, py); ctx.lineTo(R - len, py);
    });
    ctx.stroke();
    ctx.restore();
  },
  afterDraw(chart) {
    const {ctx} = chart;
    ctx.save();
    // legend
    ctx.fillStyle = POINT_COLOR;
    ctx.beginPath(); ctx.arc(651.5, 32, 2.4, 0, Math.PI * 2); ctx.fill();
    ctx.fillStyle = LABEL_COLOR;
    ctx.font = '22px ' + SERIF;
    ctx.textBaseline = 'middle'; ctx.textAlign = 'left';
    ctx.fillText(chart.data.datasets[0].label, 662, 32);

    // y title
    ctx.save();
    ctx.translate(27, 249);
    ctx.rotate(-Math.PI / 2);
    ctx.font = 'italic 22px ' + SERIF;
    ctx.textAlign = 'center'; ctx.textBaseline = 'middle';
    ctx.fillText(yTitle, 0, 0);
    ctx.restore();

    // x title with sub-scripts
    const base = 21, sub = 14;
    const fontOf = (st, s) => (st.includes('i') ? 'italic ' : '') + (st.includes('s') ? s.sub : s.base) + 'px ' + SERIF;
    let sz = {base, sub};
    let w = 0;
    xTitleParts.forEach(([t, st]) => { ctx.font = fontOf(st, sz); w += ctx.measureText(t).width; });
    const k = 284 / w;
    sz = {base: base * k, sub: sub * k};
    let cx = 455 - 142;
    const baseY = 529;
    ctx.textAlign = 'left'; ctx.textBaseline = 'alphabetic';
    xTitleParts.forEach(([t, st]) => {
      ctx.font = fontOf(st, sz);
      ctx.fillText(t, cx, st.includes('s') ? baseY + 4.5 : baseY);
      cx += ctx.measureText(t).width;
    });

    // arrow
    ctx.strokeStyle = '#000'; ctx.fillStyle = '#000'; ctx.lineWidth = 1.5;
    const x0 = 285, y0 = -1, x1 = 334, y1 = 36;
    const ang = Math.atan2(y1 - y0, x1 - x0);
    const hl = 15, hw = 5.5;
    const bx = x1 - hl * Math.cos(ang), by = y1 - hl * Math.sin(ang);
    ctx.beginPath(); ctx.moveTo(x0, y0); ctx.lineTo(bx, by); ctx.stroke();
    ctx.beginPath();
    ctx.moveTo(x1, y1);
    ctx.lineTo(bx + hw * Math.sin(ang), by - hw * Math.cos(ang));
    ctx.lineTo(bx - hw * Math.sin(ang), by + hw * Math.cos(ang));
    ctx.closePath(); ctx.fill();

    // annotation
    ctx.font = '70px Lato, "Open Sans", sans-serif';
    ctx.fillStyle = '#ff2a00';
    ctx.textAlign = 'left'; ctx.textBaseline = 'alphabetic';
    const tw = ctx.measureText(annotationText).width;
    ctx.save();
    ctx.translate(322, 115);
    ctx.scale(493 / tw, 1);
    ctx.fillText(annotationText, 0, 0);
    ctx.restore();
    ctx.restore();
  }
};

new Chart(document.getElementById('c'), {
  type: 'scatter',
  data: {datasets: [{
    label: seriesName,
    data: higgsPoints,
    pointRadius: 2.4,
    pointHoverRadius: 2.4,
    pointBackgroundColor: POINT_COLOR,
    pointBorderWidth: 0,
    showLine: false
  }]},
  options: {
    responsive: false,
    animation: false,
    devicePixelRatio: 1,
    events: [],
    layout: {padding: {top: 8, right: 9, left: 0, bottom: 0}},
    plugins: {legend: {display: false}, tooltip: {enabled: false}},
    scales: {
      x: {
        type: 'linear', min: -0.02223, max: 1.01964,
        afterBuildTicks: s => { s.ticks = xTickValues.map(v => ({value: v})); },
        afterFit: s => { s.height = 61; s.paddingLeft = 0; s.paddingRight = 0; },
        ticks: {callback: (v, i) => xTickLabels[i], font: {family: SERIF, size: 21}, color: LABEL_COLOR, padding: 0, maxRotation: 0, autoSkip: false},
        grid: {display: false, drawTicks: false},
        border: {display: false}
      },
      y: {
        type: 'linear', min: -0.00946, max: 1.03344,
        afterBuildTicks: s => { s.ticks = yTickValues.map(v => ({value: v})); },
        afterFit: s => { s.width = 78; s.paddingTop = 0; s.paddingBottom = 0; },
        ticks: {callback: (v, i) => yTickLabels[i], font: {family: SERIF, size: 21}, color: LABEL_COLOR, padding: 5, autoSkip: false},
        grid: {display: false, drawTicks: false},
        border: {display: false}
      }
    }
  },
  plugins: [frameTicks]
});
</script>
</body></html>
